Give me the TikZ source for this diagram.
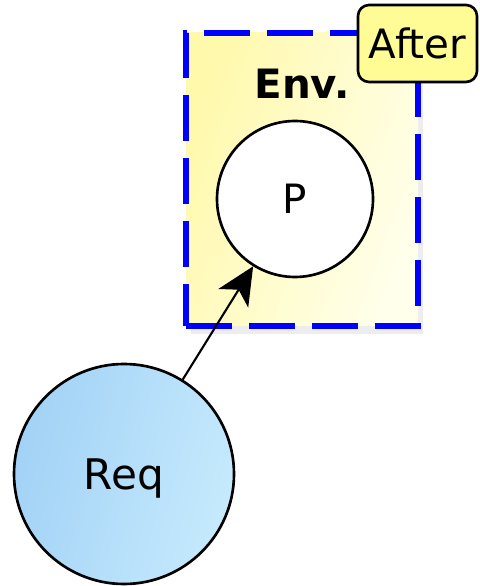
\documentclass[tikz,border=0pt]{standalone}
\usepackage{fontspec}
\setmainfont{DejaVu Sans}
\usetikzlibrary{
	arrows.meta,
	positioning,
	shadows,
}
\definecolor{envyellow}{RGB}{255,249,172}
\definecolor{envwhite}{RGB}{255,255,236}
\definecolor{afteryellow}{RGB}{255,252,150}
\definecolor{reqleft}{RGB}{162,210,246}
\definecolor{reqright}{RGB}{198,234,253}
\tikzset{default node/.style={
	draw,
	circle,
	inner sep=0mm,
	text depth=0pt,
	line width=1.5pt,
	font=\fontsize{23}{28}\selectfont,
	black,
}}

\begin{document}
\begin{tikzpicture}[
line width=1.2pt,
-{Stealth[length=7.5mm, width=7mm, inset=2mm]},
]
% \draw [help lines] (0,0) grid (9,11);
\useasboundingbox (0,0) rectangle (9.58,11.72);

\tikzset{
	envbox/.style={draw=blue, line width=3.4pt, dash pattern=on 0.92cm off 0.34cm,
		left color=envyellow, right color=envwhite, shading angle=70,
		minimum width=4.64cm, minimum height=5.86cm,
		drop shadow={fill=black!40, opacity=0.18, shadow xshift=0.1cm, shadow yshift=-0.16cm}, -},
	afterbox/.style={draw, rounded corners=0.22cm, fill=afteryellow, line width=1.5pt,
		minimum width=2.38cm, minimum height=1.54cm, inner sep=0mm, text depth=0pt,
		font=\fontsize{23}{28}\selectfont, -},
	p/.style={default node, fill=white, minimum size=3.12cm, -},
	req/.style={default node, left color=reqleft, right color=reqright, shading angle=75,
		minimum size=4.4cm, font=\fontsize{24}{28}\selectfont, -},
}

\node(env)[envbox] 						at(6.04,8.13)	{};
\node(envname)[font=\fontsize{23}{28}\selectfont\bfseries, text depth=0pt]
										at(6.04,10.04)	{Env.};
\node(after)[afterbox] 					at(8.35,10.85)	{After};

\node(p)[p] 							at(5.9,7.74)	{P};
\node(req)[req] 						at(2.48,2.24)	{Req};

\draw (req) to (p);

\end{tikzpicture}
\end{document}
